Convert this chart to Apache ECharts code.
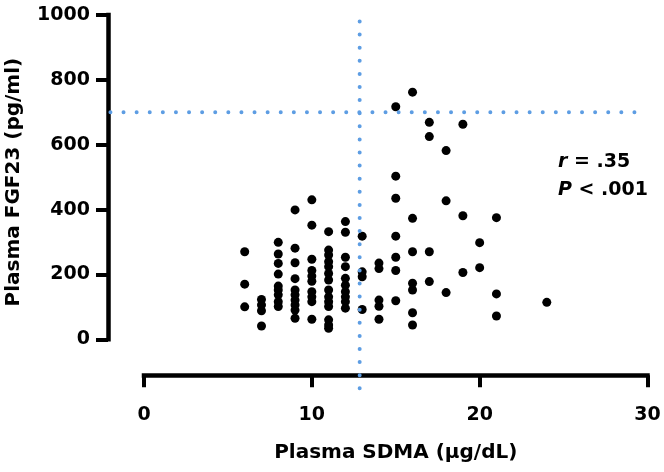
<!DOCTYPE html>
<html>
<head>
<meta charset="utf-8">
<script src="https://cdn.jsdelivr.net/npm/echarts@6/dist/echarts.min.js"></script>
<style>
html,body{margin:0;padding:0;background:#fff;}
#chart{width:664px;height:472px;}
</style>
</head>
<body>
<div id="chart"></div>
<script>
// Plasma SDMA (x) columns and FGF23 values (y)
const sdmaValues = [6, 7, 8, 9, 10, 11, 12, 13, 14, 15, 16, 17, 18, 19, 20, 21, 24];
const fgf23ByColumn = [
  [270, 170, 100],
  [123, 106, 88, 41],
  [299, 263, 234, 201, 164, 152, 137, 116, 101],
  [399, 281, 236, 187, 152, 137, 121, 106, 90, 65],
  [430, 352, 247, 212, 195, 179, 147, 131, 116, 62],
  [332, 275, 260, 239, 224, 203, 183, 152, 131, 116, 101, 60, 44, 34],
  [363, 330, 253, 224, 188, 167, 147, 131, 116, 96],
  [318, 208, 193, 92],
  [235, 218, 121, 102, 62],
  [717, 503, 435, 318, 253, 212, 119],
  [762, 373, 270, 173, 152, 82, 44],
  [669, 625, 270, 178],
  [582, 427, 144],
  [663, 381, 206],
  [298, 221],
  [375, 140, 72],
  [114]
];
// cut-off reference lines (value space)
const sdmaCutoff = 12.85;
const fgf23Cutoff = 700;
const vLineRange = [980, -160];
const hLineRange = [-2, 29.7];
const xTicks = [0, 30, 10];
const yTicks = [0, 1000, 200];
const statR = '.35';
const statP = '.001';

const points = [];
sdmaValues.forEach((x, i) => fgf23ByColumn[i].forEach(y => points.push([x, y])));

const cutoffLines = [
  [sdmaCutoff, vLineRange[0], sdmaCutoff, vLineRange[1]],
  [hLineRange[0], fgf23Cutoff, hLineRange[1], fgf23Cutoff]
];

const FONT = '"DejaVu Sans", sans-serif';
const blue = '#5d9de3';

const chart = echarts.init(document.getElementById('chart'), null, {renderer: 'canvas'});
chart.setOption({
  animation: false,
  backgroundColor: '#fff',
  grid: {left: 144, right: 16.5, top: 15, bottom: 132.7, containLabel: false, outerBoundsMode: 'none'},
  title: {
    left: 553, top: 143,
    text: '{i|r} = ' + statR + '\n{i|P} < ' + statP,
    textStyle: {
      fontFamily: FONT, fontSize: 19, fontWeight: 'bold', color: '#000', lineHeight: 28,
      rich: {i: {fontFamily: FONT, fontSize: 19, fontWeight: 'bold', fontStyle: 'italic', color: '#000', lineHeight: 28}}
    }
  },
  xAxis: {
    type: 'value', min: xTicks[0], max: xTicks[1], interval: xTicks[2],
    offset: 36,
    name: 'Plasma SDMA (μg/dL)', nameLocation: 'middle', nameGap: 67,
    nameTextStyle: {fontFamily: FONT, fontSize: 20, fontWeight: 'bold', color: '#000'},
    axisLine: {show: true, onZero: false, lineStyle: {color: '#000', width: 4.5, cap: 'square'}},
    axisTick: {show: true, length: 12, lineStyle: {color: '#000', width: 4}},
    axisLabel: {margin: 30, fontFamily: FONT, fontSize: 19, fontWeight: 'bold', color: '#000', formatter: v => String(v)},
    splitLine: {show: false}
  },
  yAxis: {
    type: 'value', min: yTicks[0], max: yTicks[1], interval: yTicks[2],
    offset: 36,
    name: 'Plasma FGF23 (pg/ml)', nameLocation: 'middle', nameGap: 84,
    nameTextStyle: {fontFamily: FONT, fontSize: 20, fontWeight: 'bold', color: '#000', padding: [0, 10, 0, 0]},
    axisLine: {show: true, onZero: false, lineStyle: {color: '#000', width: 4.5, cap: 'square'}},
    axisTick: {show: true, length: 12, lineStyle: {color: '#000', width: 4}},
    axisLabel: {margin: 18, fontFamily: FONT, fontSize: 19, fontWeight: 'bold', color: '#000', formatter: v => String(v)},
    splitLine: {show: false}
  },
  series: [
    {
      type: 'scatter', data: points, symbol: 'circle', symbolSize: 9,
      itemStyle: {color: '#000', opacity: 1}, z: 2
    },
    {
      type: 'custom', data: cutoffLines, z: 5, clip: false, silent: true,
      encode: {x: [0, 2], y: [1, 3]},
      renderItem: function (params, api) {
        const a = api.coord([api.value(0), api.value(1)]);
        const b = api.coord([api.value(2), api.value(3)]);
        return {
          type: 'line',
          shape: {x1: a[0], y1: a[1], x2: b[0], y2: b[1]},
          style: {stroke: blue, lineWidth: 4, lineDash: [0, 13.1], lineCap: 'round', fill: null}
        };
      }
    }
  ]
});
</script>
</body>
</html>
